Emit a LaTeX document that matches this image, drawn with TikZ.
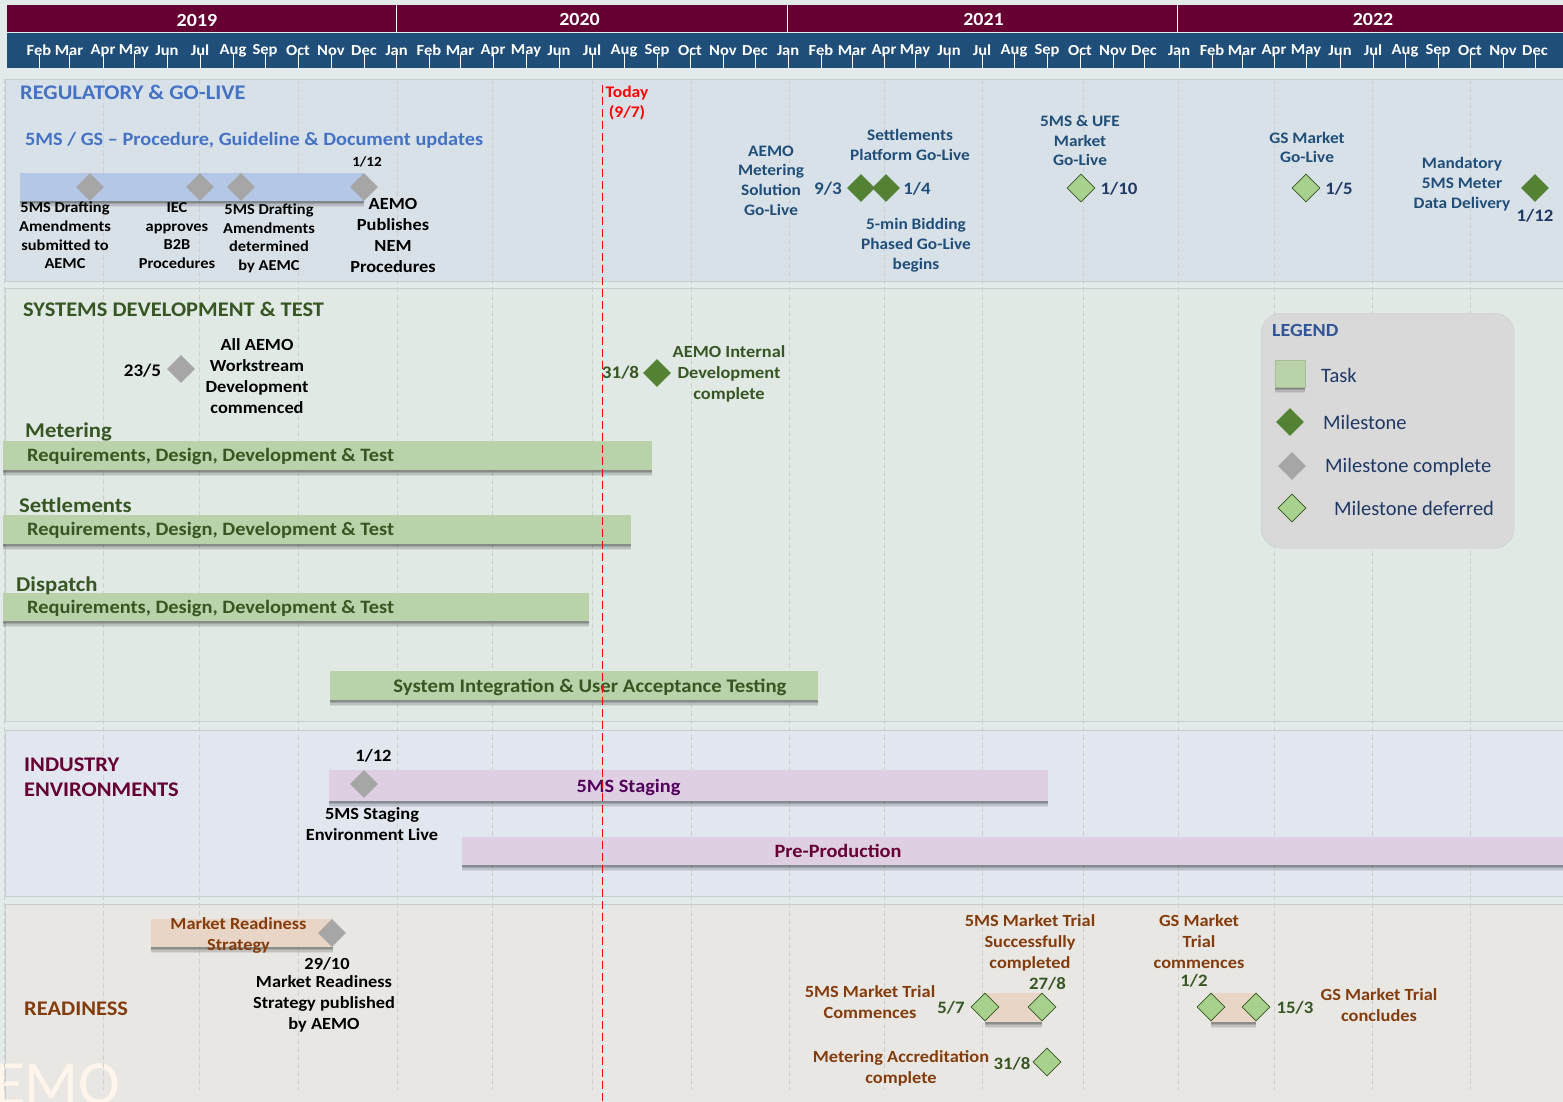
\documentclass[tikz,border=0pt]{standalone}
\usepackage{fontspec}
\setmainfont{Carlito}[BoldFeatures={FakeStretch=1.08}]
\usetikzlibrary{shapes.geometric,shadows}
\definecolor{yearbar}{HTML}{660033}
\definecolor{monthbar}{HTML}{1F4E79}
\definecolor{pagebg}{HTML}{E3EAEA}
\definecolor{regbg}{HTML}{D9E1E8}
\definecolor{sysbg}{HTML}{E0E9E4}
\definecolor{indbg}{HTML}{E1E6EF}
\definecolor{rdybg}{HTML}{E8E7E3}
\definecolor{bandline}{HTML}{C9CDCF}
\definecolor{gridline}{HTML}{CBCFCF}
\definecolor{regblue}{HTML}{4472C4}
\definecolor{goblue}{HTML}{1F4E79}
\definecolor{navy}{HTML}{1F3864}
\definecolor{legblue}{HTML}{2F5597}
\definecolor{sysgreen}{HTML}{375623}
\definecolor{rdybrown}{HTML}{843C0C}
\definecolor{msdone}{HTML}{A6A6A6}
\definecolor{msopen}{HTML}{548235}
\definecolor{msdefer}{HTML}{A9D18E}
\definecolor{taskgreen}{HTML}{B9D2A9}
\definecolor{taskblue}{HTML}{B4C7E7}
\definecolor{taskpurple}{HTML}{DFCFE3}
\definecolor{taskpeach}{HTML}{E9D5C5}
\definecolor{legendbg}{HTML}{D9D9D9}
\newcommand{\lab}[1]{\fontsize{#1}{#1}\selectfont\bfseries}
\tikzset{
band/.style={draw=bandline,line width=1pt,anchor=north west,inner sep=0pt},
ms/.style={diamond,minimum width=28,minimum height=28,inner sep=0pt},
msdonenode/.style={ms,fill=msdone},
msopennode/.style={ms,fill=msopen},
msdefernode/.style={ms,fill=msdefer,draw=sysgreen,line width=.7pt},
softshadow/.style={drop shadow={shadow xshift=0pt,shadow yshift=-6pt,opacity=.07,fill=black},
drop shadow={shadow xshift=0pt,shadow yshift=-4.5pt,opacity=.1,fill=black},
drop shadow={shadow xshift=0pt,shadow yshift=-3pt,opacity=.13,fill=black},
drop shadow={shadow xshift=0pt,shadow yshift=-1.5pt,opacity=.16,fill=black}},
taskbar/.style={anchor=north west,inner sep=0pt,softshadow},
txt/.style={align=center,inner sep=0pt},
lft/.style={anchor=west,align=left,inner sep=0pt}
}
\begin{document}
\begin{tikzpicture}[x=1pt,y=-1pt]
\useasboundingbox[fill=pagebg] (0,0) rectangle (1563,1102);
% bands
\node[band,fill=regbg,minimum width=1570,minimum height=202] (regband) at (5,79) {};
\node[band,fill=sysbg,minimum width=1570,minimum height=433] (sysband) at (5,288) {};
\node[band,fill=indbg,minimum width=1570,minimum height=166] (indband) at (5,730) {};
\node[band,fill=rdybg,minimum width=1570,minimum height=210] (rdyband) at (5,904) {};
\node[lft,text=white!92!orange,font=\fontsize{63}{63}\selectfont] (emo) at (-6,1084) {EMO};
% header
\node[anchor=north west,fill=yearbar,inner sep=0pt,minimum width=1570,minimum height=27] (yearrow) at (7,5) {};
\node[anchor=north west,fill=monthbar,inner sep=0pt,minimum width=1570,minimum height=35] (monthrow) at (7,33) {};
\foreach \yx/\yy/\yname/\ynum in {197/20.5/2019/a,579.5/19.5/2020/b,983.5/19.5/2021/c,1373/19.5/2022/d}
\node[txt,text=white,font=\lab{18.5}] (year\ynum) at (\yx,\yy) {\yname};
\foreach \dx/\dnum in {396.5/a,787.5/b,1177.5/c}
\draw[white,line width=1.5pt] (\dx,5) -- (\dx,32);
\foreach \mx/\mname [count=\mi] in {39/Feb,69/Mar,103/Apr,134/May,167/Jun,200/Jul,233/Aug,265/Sep,298/Oct,331/Nov,364/Dec,396.5/Jan,429/Feb,460/Mar,493/Apr,526/May,559/Jun,592/Jul,624/Aug,657/Sep,690/Oct,723/Nov,755/Dec,788/Jan,821/Feb,852/Mar,884/Apr,915/May,949/Jun,982/Jul,1014/Aug,1047/Sep,1080/Oct,1113/Nov,1144/Dec,1179/Jan,1212/Feb,1242/Mar,1274/Apr,1306/May,1340/Jun,1373/Jul,1405/Aug,1438/Sep,1470/Oct,1503/Nov,1535/Dec}{
\node[txt,text=white,font=\lab{15.3}] (month\mi) at (\mx,50.5) {\mname};
\draw[white,line width=.6pt] (\mx,54) -- (\mx,68);
}
% grid
\foreach \gx in {4,103,199,298,397,492,592,691,789,884,982,1083,1178,1274,1372,1470}
\draw[gridline,dashed,line width=.7pt,dash pattern=on 5pt off 3pt] (\gx,79) -- (\gx,1090);
% regulatory
\node[lft,text=regblue,font=\lab{20.8}] (regtitle) at (20,92.5) {REGULATORY \& GO-LIVE};
\node[lft,text=regblue,font=\lab{18.8}] (proctitle) at (25,140) {5MS / GS -- Procedure, Guideline \& Document updates};
\node[taskbar,fill=taskblue,minimum width=344,minimum height=28] (procbar) at (20,173) {};
\node[msdonenode] (proca) at (90,187) {};
\node[msdonenode] (procb) at (200,187) {};
\node[msdonenode] (procc) at (241,187) {};
\node[msdonenode] (procd) at (364,187) {};
\node[txt,font=\lab{14}] (procdate) at (367,162) {1/12};
\node[txt,font=\fontsize{15.2}{18.7}\selectfont\bfseries] (procatxt) at (65,235.5) {5MS Drafting\\Amendments\\submitted to\\AEMC};
\node[txt,font=\fontsize{15.2}{18.7}\selectfont\bfseries] (procbtxt) at (177,235.5) {IEC\\approves\\B2B\\Procedures};
\node[txt,font=\fontsize{15.2}{18.7}\selectfont\bfseries] (procctxt) at (269,238.5) {5MS Drafting\\Amendments\\determined\\by AEMC};
\node[txt,font=\fontsize{17}{21}\selectfont\bfseries] (procdtxt) at (393,235) {AEMO\\Publishes\\NEM\\Procedures};
\node[txt,text=red,font=\fontsize{16.2}{19.5}\selectfont\bfseries] (todaytxt) at (627,103) {Today\\(9/7)};
\node[txt,text=goblue,font=\fontsize{16}{19.7}\selectfont\bfseries] (meterlive) at (771,180.5) {AEMO\\Metering\\Solution\\Go-Live};
\node[txt,text=goblue,font=\lab{17.7}] (meterdate) at (828,189) {9/3};
\node[msopennode] (meterms) at (861,188) {};
\node[msopennode] (settlems) at (886,188) {};
\node[txt,text=goblue,font=\lab{17.4}] (settledate) at (917,189) {1/4};
\node[txt,text=goblue,font=\fontsize{16}{20}\selectfont\bfseries] (settlelive) at (910,144.5) {Settlements\\Platform Go-Live};
\node[txt,text=goblue,font=\fontsize{16}{20}\selectfont\bfseries] (bidlive) at (916,245) {5-min Bidding\\Phased Go-Live\\begins};
\node[txt,text=goblue,font=\fontsize{16}{19.5}\selectfont\bfseries] (ufelive) at (1080,141) {5MS \& UFE\\Market\\Go-Live};
\node[msdefernode] (ufems) at (1081,188) {};
\node[txt,text=navy,font=\lab{17.4}] (ufedate) at (1119,189) {1/10};
\node[txt,text=goblue,font=\fontsize{16}{19.5}\selectfont\bfseries] (gslive) at (1307,147.5) {GS Market\\Go-Live};
\node[msdefernode] (gsms) at (1306,188) {};
\node[txt,text=navy,font=\lab{17.4}] (gsdate) at (1339,189) {1/5};
\node[txt,text=goblue,font=\fontsize{16}{20}\selectfont\bfseries] (datalive) at (1462,184) {Mandatory\\5MS Meter\\Data Delivery};
\node[msopennode] (datams) at (1535,188) {};
\node[txt,text=navy,font=\lab{17.4}] (datadate) at (1535,215.5) {1/12};
% systems
\node[lft,text=sysgreen,font=\lab{20.8}] (systitle) at (23,309.5) {SYSTEMS DEVELOPMENT \& TEST};
\node[txt,font=\lab{17.7}] (wsdate) at (142.5,370.5) {23/5};
\node[msdonenode] (wsms) at (181,369) {};
\node[txt,font=\fontsize{17}{21.2}\selectfont\bfseries] (wstxt) at (257,376) {All AEMO\\Workstream\\Development\\commenced};
\node[txt,text=sysgreen,font=\lab{17.7}] (intdate) at (620.5,373) {31/8};
\node[msopennode] (intms) at (657,373) {};
\node[txt,text=sysgreen,font=\fontsize{17}{21}\selectfont\bfseries] (inttxt) at (729,374) {AEMO Internal\\Development\\complete};
\foreach \bname/\bw/\by/\bh/\tx/\ty/\ttxt in {met/649/441/29/25/432/Metering,set/628/515/29/19/505/Settlements,dis/586/593/28/16/585.5/Dispatch}{
\node[taskbar,fill=taskgreen,minimum width=\bw,minimum height=\bh] (\bname bar) at (3,\by) {};
\node[lft,text=sysgreen,font=\fontsize{21}{21}\selectfont\bfseries] (\bname title) at (\tx,\ty) {\ttxt};
\node[lft,text=sysgreen,font=\lab{18.9}] (\bname txt) at (27,\by+15.5) {Requirements, Design, Development \& Test};
}
\node[taskbar,fill=taskgreen,minimum width=488,minimum height=29] (sitbar) at (330,671) {};
\node[txt,text=sysgreen,font=\lab{19.2}] (sittxt) at (590,687) {System Integration \& User Acceptance Testing};
% legend
\node[anchor=north west,rounded corners=20,fill=legendbg,draw=bandline,minimum width=253,minimum height=235] (legendbox) at (1261,313) {};
\node[lft,text=legblue,font=\lab{18.5}] (legendtitle) at (1272,330) {LEGEND};
\node[taskbar,fill=taskgreen,draw=taskgreen!90!black,minimum width=30,minimum height=27] (legtask) at (1275,360) {};
\node[lft,text=navy,font=\fontsize{20.5}{20.5}\selectfont] (legtasktxt) at (1321,375.5) {Task};
\node[msopennode] (legopen) at (1290,422) {};
\node[lft,text=navy,font=\fontsize{20.5}{20.5}\selectfont] (legopentxt) at (1323,422) {Milestone};
\node[msdonenode] (legdone) at (1292,466) {};
\node[lft,text=navy,font=\fontsize{20.5}{20.5}\selectfont] (legdonetxt) at (1325,467.5) {Milestone complete};
\node[msdefernode] (legdefer) at (1292,508) {};
\node[lft,text=navy,font=\fontsize{20.5}{20.5}\selectfont] (legdefertxt) at (1334,508) {Milestone deferred};
% industry
\node[lft,text=yearbar,font=\fontsize{20.8}{25}\selectfont\bfseries] (indtitle) at (24,777) {INDUSTRY\\ENVIRONMENTS};
\node[taskbar,fill=taskpurple,minimum width=719,minimum height=31] (stagebar) at (329,770) {};
\node[msdonenode] (stagems) at (364,784) {};
\node[txt,font=\lab{17.2}] (stagedate) at (373.5,756) {1/12};
\node[txt,text=yearbar!80!blue,font=\lab{18.8}] (stagetxt) at (628.5,787) {5MS Staging};
\node[txt,font=\fontsize{17}{21}\selectfont\bfseries] (stagelive) at (372,824.5) {5MS Staging\\Environment Live};
\node[taskbar,fill=taskpurple,minimum width=1110,minimum height=28] (prodbar) at (462,837) {};
\node[txt,text=yearbar,font=\lab{18.8}] (prodtxt) at (838,851) {Pre-Production};
% readiness
\node[lft,text=rdybrown,font=\lab{20.8}] (rdytitle) at (24,1009) {READINESS};
\node[taskbar,fill=taskpeach,minimum width=182,minimum height=28] (stratbar) at (151,919) {};
\node[txt,text=rdybrown,font=\fontsize{17}{21}\selectfont\bfseries] (strattxt) at (238.5,935) {Market Readiness\\Strategy};
\node[msdonenode] (stratms) at (332,933) {};
\node[txt,font=\lab{17}] (stratdate) at (327,964) {29/10};
\node[txt,font=\fontsize{17}{21}\selectfont\bfseries] (stratpub) at (324,1003.5) {Market Readiness\\Strategy published\\by AEMO};
\node[txt,text=rdybrown,font=\fontsize{17}{21}\selectfont\bfseries] (trialdone) at (1030,942.5) {5MS Market Trial\\Successfully\\completed};
\node[txt,text=sysgreen,font=\lab{17.4}] (trialend) at (1047.5,984) {27/8};
\node[txt,text=sysgreen,font=\lab{17.4}] (trialstart) at (951,1008) {5/7};
\node[taskbar,fill=taskpeach,minimum width=57,minimum height=29] (trialbar) at (985,993) {};
\node[msdefernode] (trialmsa) at (985,1007) {};
\node[msdefernode] (trialmsb) at (1042,1007) {};
\node[txt,text=rdybrown,font=\fontsize{17}{21}\selectfont\bfseries] (trialgo) at (870,1002.5) {5MS Market Trial\\Commences};
\node[txt,text=rdybrown,font=\fontsize{17}{21}\selectfont\bfseries] (gsgo) at (1199,942) {GS Market\\Trial\\commences};
\node[txt,text=sysgreen,font=\lab{17.4}] (gsstart) at (1194,981) {1/2};
\node[taskbar,fill=taskpeach,minimum width=45,minimum height=29] (gsbar) at (1211,993) {};
\node[msdefernode] (gsmsa) at (1211,1007) {};
\node[msdefernode] (gsmsb) at (1256,1007) {};
\node[txt,text=sysgreen,font=\lab{17.4}] (gsend) at (1295,1008) {15/3};
\node[txt,text=rdybrown,font=\fontsize{17}{21}\selectfont\bfseries] (gsdone) at (1379,1005.5) {GS Market Trial\\concludes};
\node[txt,text=rdybrown,font=\fontsize{17}{21}\selectfont\bfseries] (acctxt) at (901,1068) {Metering Accreditation\\complete};
\node[txt,text=sysgreen,font=\lab{17.4}] (accdate) at (1012,1064) {31/8};
\node[msdefernode] (accms) at (1047,1062) {};
% today
\coordinate (todaytop) at (602.5,85);
\coordinate (todayend) at (602.5,1102);
\draw[red,dashed,line width=1.2pt,dash pattern=on 8pt off 4pt] (todaytop) -- (todayend);
\end{tikzpicture}
\end{document}
